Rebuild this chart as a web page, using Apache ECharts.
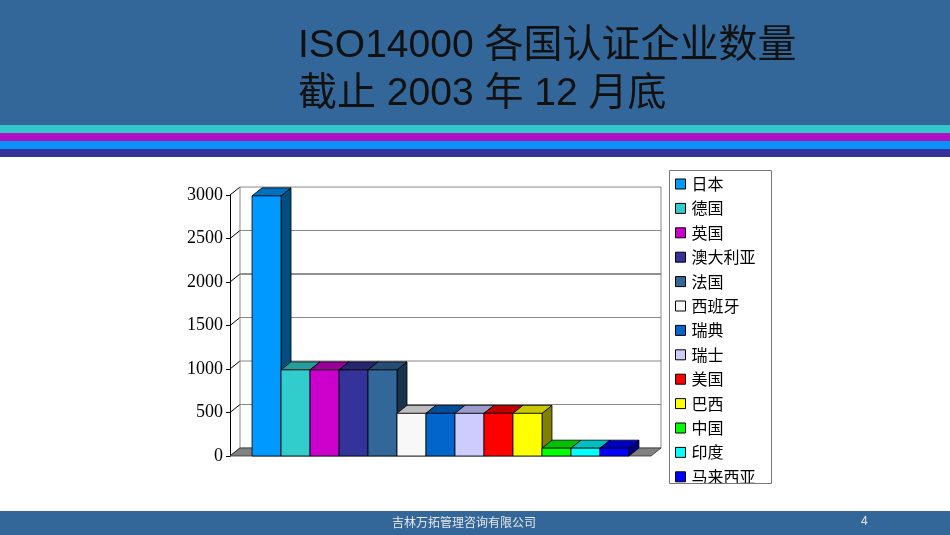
<!DOCTYPE html>
<html>
<head>
<meta charset="utf-8">
<script src="https://cdn.jsdelivr.net/npm/echarts@6/dist/echarts.min.js"></script>
<style>
  html, body { margin: 0; padding: 0; background: #fff; }
  #main { width: 950px; height: 535px; }
</style>
</head>
<body>
<div id="main"></div>
<script>
// 数据
const countries = ['日本', '德国', '英国', '澳大利亚', '法国', '西班牙', '瑞典', '瑞士', '美国', '巴西', '中国', '印度', '马来西亚'];
const counts = [2990, 990, 990, 990, 990, 490, 490, 490, 490, 490, 90, 90, 90];
const yTicks = [0, 500, 1000, 1500, 2000, 2500, 3000];

// 正面 / 顶面 / 侧面颜色
const frontColors = ['#0099ff', '#33cccc', '#cc00cc', '#333399', '#336699', '#f8f8f8', '#0066cc', '#ccccff', '#ff0000', '#ffff00', '#00ff00', '#00ffff', '#0000ff'];
const topColors = ['#0070c0', '#279c9c', '#990099', '#262670', '#264d73', '#bdbdbd', '#004d99', '#9c9ccc', '#c00000', '#c8c800', '#00c000', '#00c0c0', '#0000c0'];
const sideColors = ['#004d80', '#1a6666', '#660066', '#1a1a4d', '#1a334d', '#808080', '#003366', '#66668a', '#800000', '#808000', '#008000', '#008080', '#000080'];

const DX = 10, DY = 8; // 3D 深度偏移
const X_MIN = -1.26, X_MAX = 13.26;
const FONT_SANS = '"Liberation Sans", "Noto Sans CJK SC", sans-serif';

function renderBar(params, api) {
  const x = api.value(0), v = api.value(1);
  const tl = api.coord([x - 0.5, v]);
  const br = api.coord([x + 0.5, 0]);
  const i = params.seriesIndex - 2;
  const line = { stroke: '#000', lineWidth: 0.8 };
  return {
    type: 'group',
    children: [
      {
        type: 'polygon',
        shape: { points: [[br[0], tl[1]], [br[0] + DX, tl[1] - DY], [br[0] + DX, br[1] - DY], [br[0], br[1]]] },
        style: Object.assign({ fill: sideColors[i] }, line)
      },
      {
        type: 'polygon',
        shape: { points: [[tl[0], tl[1]], [tl[0] + DX, tl[1] - DY], [br[0] + DX, tl[1] - DY], [br[0], tl[1]]] },
        style: Object.assign({ fill: topColors[i] }, line)
      },
      {
        type: 'rect',
        shape: { x: tl[0], y: tl[1], width: br[0] - tl[0], height: br[1] - tl[1] },
        style: Object.assign({ fill: frontColors[i] }, line)
      }
    ]
  };
}

// 背墙网格线 + 左侧墙斜线
function renderGrid(params, api) {
  const v = api.value(0);
  const a = api.coord([X_MIN, v]);
  const b = api.coord([X_MAX, v]);
  return {
    type: 'group',
    children: [
      { type: 'line', shape: { x1: a[0] + DX, y1: a[1] - DY, x2: b[0] + DX, y2: b[1] - DY }, style: { stroke: v === 2000 ? '#222' : '#888', lineWidth: 1 } },
      { type: 'line', shape: { x1: a[0], y1: a[1], x2: a[0] + DX, y2: a[1] - DY }, style: { stroke: '#000', lineWidth: 1 } }
    ]
  };
}

// 地板 + 背墙边
function renderWall(params, api) {
  const p0 = api.coord([X_MIN, 0]);
  const p1 = api.coord([X_MAX, 0]);
  const top = api.coord([X_MIN, yTicks[yTicks.length - 1]]);
  return {
    type: 'group',
    children: [
      { type: 'line', shape: { x1: p0[0] + DX, y1: top[1] - DY, x2: p0[0] + DX, y2: p0[1] - DY }, style: { stroke: '#888', lineWidth: 1 } },
      { type: 'line', shape: { x1: p1[0] + DX, y1: top[1] - DY, x2: p1[0] + DX, y2: p1[1] - DY }, style: { stroke: '#888', lineWidth: 1 } },
      {
        type: 'polygon',
        shape: { points: [[p0[0], p0[1]], [p0[0] + DX, p0[1] - DY], [p1[0] + DX, p1[1] - DY], [p1[0], p1[1]]] },
        style: { fill: '#808080', stroke: '#333', lineWidth: 0.8 }
      }
    ]
  };
}

const series = [
  { type: 'custom', name: 'grid', renderItem: renderGrid, data: yTicks.map(v => [v]), silent: true, z: 1 },
  { type: 'custom', name: 'wall', renderItem: renderWall, data: [[0]], silent: true, z: 1 }
];
countries.forEach((name, i) => {
  series.push({
    type: 'custom',
    name: name,
    renderItem: renderBar,
    itemStyle: { color: frontColors[i] },
    data: [[i, counts[i]]],
    z: 2
  });
});

const option = {
  animation: false,
  backgroundColor: '#fff',
  grid: { left: 230, right: 299, top: 195, bottom: 79 },
  xAxis: { type: 'value', min: X_MIN, max: X_MAX, show: false },
  yAxis: {
    type: 'value',
    min: 0,
    max: 3000,
    interval: 500,
    axisLine: { show: true, onZero: false, lineStyle: { color: '#000', width: 1 } },
    axisTick: { show: true, length: 4, lineStyle: { color: '#000' } },
    axisLabel: { color: '#000', fontSize: 18, fontFamily: '"Liberation Serif", serif', margin: 7, formatter: v => String(v) },
    splitLine: { show: false }
  },
  legend: {
    orient: 'vertical',
    left: 675,
    top: 176,
    padding: 0,
    itemGap: 8.4,
    itemWidth: 10,
    itemHeight: 10,
    icon: 'rect',
    data: countries,
    itemStyle: { borderColor: '#000', borderWidth: 1 },
    textStyle: { color: '#000', fontSize: 16, lineHeight: 16, fontFamily: '"Noto Sans CJK SC", sans-serif', padding: [0, 0, 0, 1] }
  },
  graphic: [
    { type: 'rect', shape: { x: 0, y: 0, width: 950, height: 125 }, style: { fill: '#336699' }, z: 0 },
    { type: 'rect', shape: { x: 0, y: 125, width: 950, height: 8 }, style: { fill: '#33c6cc' }, z: 0 },
    { type: 'rect', shape: { x: 0, y: 133, width: 950, height: 8 }, style: { fill: '#b011c0' }, z: 0 },
    { type: 'rect', shape: { x: 0, y: 141, width: 950, height: 8 }, style: { fill: '#0a92f8' }, z: 0 },
    { type: 'rect', shape: { x: 0, y: 149, width: 950, height: 8 }, style: { fill: '#333399' }, z: 0 },
    { type: 'text', x: 298, y: 46, style: { text: 'ISO14000 各国认证企业数量', font: '39px ' + FONT_SANS, fill: '#111', verticalAlign: 'middle' }, z: 1 },
    { type: 'text', x: 298, y: 94, style: { text: '截止 2003 年 12 月底', font: '39px ' + FONT_SANS, fill: '#111', verticalAlign: 'middle' }, z: 1 },
    // 图例框（底部裁切）
    { type: 'rect', shape: { x: 668, y: 483, width: 106, height: 24 }, style: { fill: '#fff' }, z: 100 },
    { type: 'rect', shape: { x: 669.5, y: 170.5, width: 102, height: 313 }, style: { fill: 'none', stroke: '#777', lineWidth: 1 }, z: 101 },
    // 页脚
    { type: 'rect', shape: { x: 0, y: 511, width: 950, height: 24 }, style: { fill: '#336699' }, z: 0 },
    { type: 'text', x: 392, y: 522, style: { text: '吉林万拓管理咨询有限公司', font: '12px "Noto Sans CJK SC", serif', fill: '#e8e8e8', verticalAlign: 'middle' }, z: 1 },
    { type: 'text', x: 861, y: 522, style: { text: '4', font: '12px "Liberation Sans", sans-serif', fill: '#e8e8e8', verticalAlign: 'middle' }, z: 1 }
  ],
  series: series
};

const myChart = echarts.init(document.getElementById('main'));
myChart.setOption(option);
</script>
</body>
</html>
